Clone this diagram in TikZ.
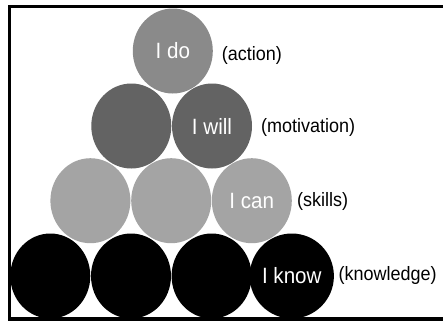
\documentclass[tikz,border=0pt]{standalone}
\usepackage{fontspec}
\setmainfont{Liberation Sans}
\usetikzlibrary{shapes.geometric}
\definecolor{doGray}{HTML}{8A8A8A}
\definecolor{willGray}{HTML}{636363}
\definecolor{canGray}{HTML}{A4A4A4}
% text set slightly taller than wide, like the stretched circles
\newcommand{\tallText}[1]{\scalebox{1}[1.075]{#1}}
\tikzset{
  ball/.style={ellipse, minimum width=80pt, minimum height=85pt, inner sep=0pt,
    draw=none, text=white, font=\fontsize{20.6}{24}\selectfont},
  tag/.style={anchor=west, inner sep=0pt, text=black,
    font=\fontsize{18}{21}\selectfont},
  frameline/.style={line width=3.5pt, black}
}
\begin{document}
\begin{tikzpicture}[x=1pt,y=-1pt]
  \useasboundingbox (0,0) rectangle (443,322);
  \clip (0,0) rectangle (443,322);
  \fill[white] (0,0) rectangle (443,322);

  % bottom row: knowledge
  \node[ball, fill=black] (k1) at (50.3,276) {};
  \node[ball, fill=black] (k2) at (131,276) {};
  \node[ball, fill=black] (k3) at (211.6,276) {};
  \node[ball, fill=black] (k4) at (291.8,276) {\tallText{I know}};

  % third row: skills
  \node[ball, fill=canGray] (c1) at (90.4,200.7) {};
  \node[ball, fill=canGray] (c2) at (171.2,200.7) {};
  \node[ball, fill=canGray] (c3) at (251.8,200.7) {\tallText{I can}};

  % second row: motivation
  \node[ball, fill=willGray] (w1) at (131.3,126) {};
  \node[ball, fill=willGray] (w2) at (212,126) {\tallText{I will}};

  % top: action
  \node[ball, fill=doGray] (d1) at (172.8,51) {\raisebox{-1.5pt}{\tallText{I do}}};

  % side labels
  \node[tag] (la) at (221.7,55) {\tallText{(action)}};
  \node[tag] (lm) at (261,127) {\tallText{(motivation)}};
  \node[tag] (ls) at (297,201.5) {\tallText{(skills)}};
  \node[tag] (lk) at (338.3,275) {\tallText{(knowledge)}};

  % open frame (left, top, bottom)
  \draw[frameline] (460,6.3) -- (9.5,6.3) -- (9.5,319) -- (460,319);
\end{tikzpicture}
\end{document}
